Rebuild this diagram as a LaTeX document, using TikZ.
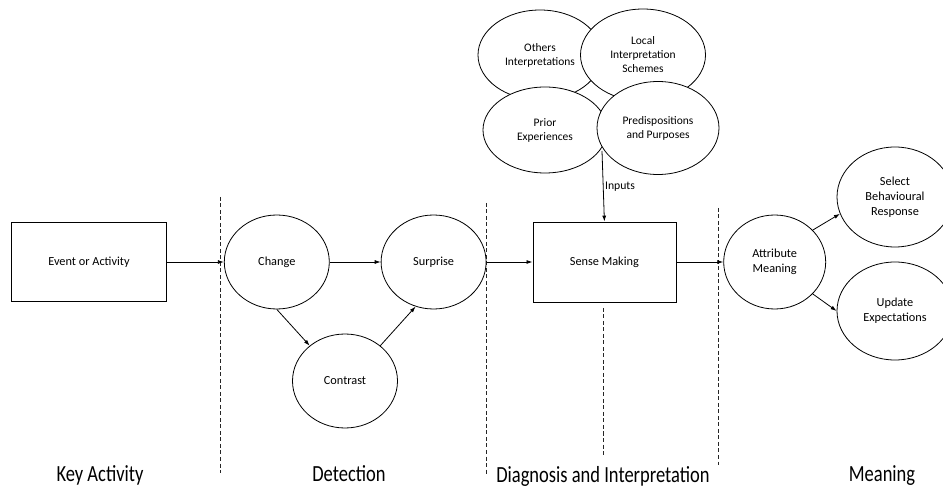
\documentclass[tikz,border=0pt]{standalone}
\usepackage{fontspec}
\setmainfont{Carlito}
\usetikzlibrary{arrows.meta,positioning,shapes.geometric}
\newcommand{\tallphase}[1]{\scalebox{1}[1.25]{#1}}

\begin{document}
\begin{tikzpicture}[>={Latex[length=6pt,width=4pt]},x=1pt,y=-1pt,line width=0.8pt,
  every node/.style={font=\fontsize{12.3}{15}\selectfont,align=center},
  stepbox/.style={draw,rectangle,minimum width=155pt,minimum height=79pt,inner sep=0pt},
  bubble/.style={draw,ellipse,inner sep=0pt,minimum width=105pt,minimum height=94pt},
  factor/.style={draw,ellipse,fill=white,inner sep=0pt,minimum width=124pt,minimum height=90pt,
    font=\fontsize{11.5}{14}\selectfont},
  divider/.style={dash pattern=on 4pt off 2.5pt,line width=0.7pt,black!85},
  phase/.style={anchor=base,font=\fontsize{18.5}{22}\selectfont},
  flow/.style={->}]
\useasboundingbox (0,0) rectangle (943,486);

% phase dividers
\draw[divider] (220,197) -- (220,473);
\draw[divider] (486,203) -- (486,475);
\draw[divider] (603,308) -- (603,455);
\draw[divider] (718,208) -- (718,465);

% key activity
\node[stepbox] (evt) at (89,262) {Event or Activity};

% detection
\node[bubble,right=57pt of evt] (chg) {Change};
\node[bubble,right=51pt of chg] (srp) {Surprise};
\node[bubble] (ctr) at (345,381) {Contrast};

% diagnosis and interpretation
\node[stepbox,minimum width=143pt,minimum height=80pt,right=46pt of srp] (sns) {Sense Making};
\node[factor] (oth) at (540,55) {Others\\Interpretations};
\node[factor,minimum width=125pt,minimum height=92pt] (loc) at (643,55) {Local\\Interpretation\\Schemes};
\node[factor,minimum height=86pt] (pri) at (545,130) {Prior\\Experiences};
\node[factor,minimum width=122pt,minimum height=93pt] (pre) at (658,128) {Predispositions\\and Purposes};
\coordinate (inp) at (602,151);

% meaning
\node[bubble,minimum width=102pt,right=47pt of sns] (att) {Attribute\\Meaning};
\node[bubble,minimum width=116pt,minimum height=100pt] (sel) at (895,197) {Select\\Behavioural\\Response};
\node[bubble,minimum width=116pt,minimum height=98pt] (upd) at (895,311) {Update\\Expectations};

\draw[flow] (evt) -- (chg);
\draw[flow] (chg) -- (srp);
\draw[flow] (chg.south) -- (ctr.135);
\draw[flow] (ctr.45) -- (srp.-112);
\draw[flow] (srp) -- (sns);
\draw[flow] (inp) -- node[right,inner sep=1.5pt,font=\fontsize{11.7}{14}\selectfont]{Inputs} (sns.north);
\draw[flow] (sns) -- (att);
\draw[flow] (att.40) -- (sel.197);
\draw[flow] (att.-40) -- (upd.west);

% phase names
\node[phase] (kact) at (100,481) {\tallphase{Key Activity}};
\node[phase] (det) at (349,481) {\tallphase{Detection}};
\node[phase] (dia) at (603,482) {\tallphase{Diagnosis and Interpretation}};
\node[phase] (mng) at (882,481) {\tallphase{Meaning}};
\end{tikzpicture}
\end{document}
